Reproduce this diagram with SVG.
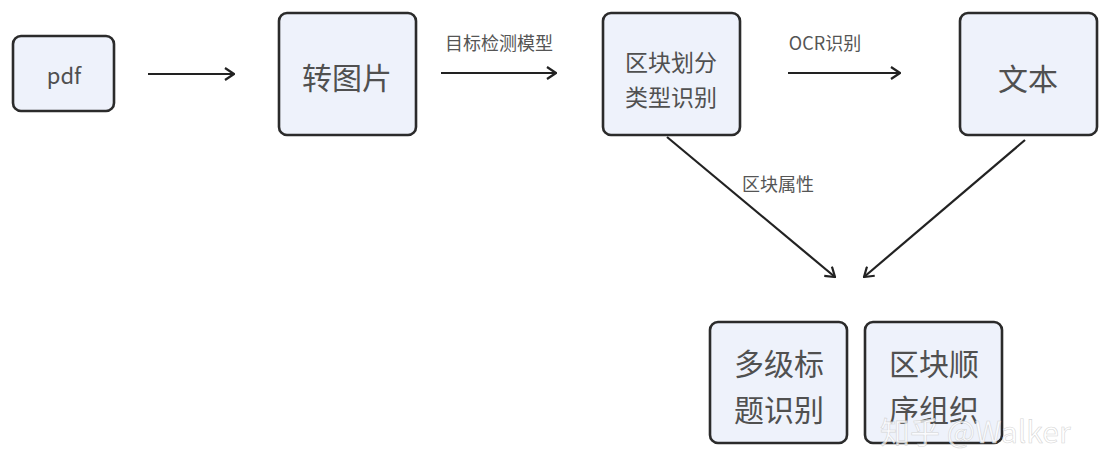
<svg xmlns="http://www.w3.org/2000/svg" width="1107" height="450" viewBox="0 0 1107 450">
<style>
.box{fill:#eef2fb;stroke:#2b2b2b;stroke-width:2.6}
.t{font-family:"Noto Sans CJK SC","Noto Sans",sans-serif;fill:#505050;text-anchor:middle;dominant-baseline:central}
.lbl{font-family:"Noto Sans CJK SC","Noto Sans",sans-serif;fill:#555;font-size:18px;text-anchor:middle;dominant-baseline:central}
.c{stroke:#222;stroke-width:2.2;fill:none;marker-end:url(#ah)}
</style>
<defs>
<marker id="ah" viewBox="0 0 12 14" refX="11" refY="7" markerWidth="12" markerHeight="14" markerUnits="userSpaceOnUse" orient="auto">
<path d="M2,1 L11,7 L2,13" fill="none" stroke="#222" stroke-width="2.2"/>
</marker>
</defs>
<rect width="1107" height="450" fill="#ffffff"/>
<g id="connectors">
<line class="c" x1="148" y1="74" x2="234" y2="74"/>
<line class="c" x1="441" y1="73" x2="556" y2="73"/>
<text class="lbl" x="499" y="42">目标检测模型</text>
<line class="c" x1="788" y1="73" x2="900" y2="73"/>
<text class="lbl" x="825" y="42">OCR识别</text>
<line class="c" x1="667" y1="137" x2="835" y2="277"/>
<text class="lbl" x="778" y="183">区块属性</text>
<line class="c" x1="1025" y1="140" x2="864" y2="277"/>
</g>
<g id="node-pdf">
<rect class="box" x="13" y="36" width="101" height="75" rx="8"/>
<text class="t" x="64" y="74" font-size="22">pdf</text>
</g>
<g id="node-image">
<rect class="box" x="279" y="13" width="137" height="122" rx="8"/>
<text class="t" x="347" y="76" font-size="30">转图片</text>
</g>
<g id="node-block">
<rect class="box" x="603" y="13" width="137" height="122" rx="8"/>
<text class="t" x="671" y="61" font-size="23">区块划分</text>
<text class="t" x="671" y="96" font-size="23">类型识别</text>
</g>
<g id="node-text">
<rect class="box" x="960" y="13" width="137" height="122" rx="8"/>
<text class="t" x="1028" y="77" font-size="30">文本</text>
</g>
<g id="node-heading">
<rect class="box" x="710" y="322" width="137" height="121" rx="8"/>
<text class="t" x="779" y="362" font-size="30">多级标</text>
<text class="t" x="779" y="408" font-size="30">题识别</text>
</g>
<g id="node-order">
<rect class="box" x="865" y="322" width="137" height="121" rx="8"/>
<text class="t" x="934" y="362" font-size="30">区块顺</text>
<text class="t" x="934" y="408" font-size="30">序组织</text>
</g>
<text x="880" y="443" font-family="Noto Sans CJK SC,Noto Sans,sans-serif" font-size="30" fill="#ffffff" fill-opacity="0.75" stroke="#cccccc" stroke-width="0.6" stroke-opacity="0.8">知乎 @Walker</text>
</svg>
